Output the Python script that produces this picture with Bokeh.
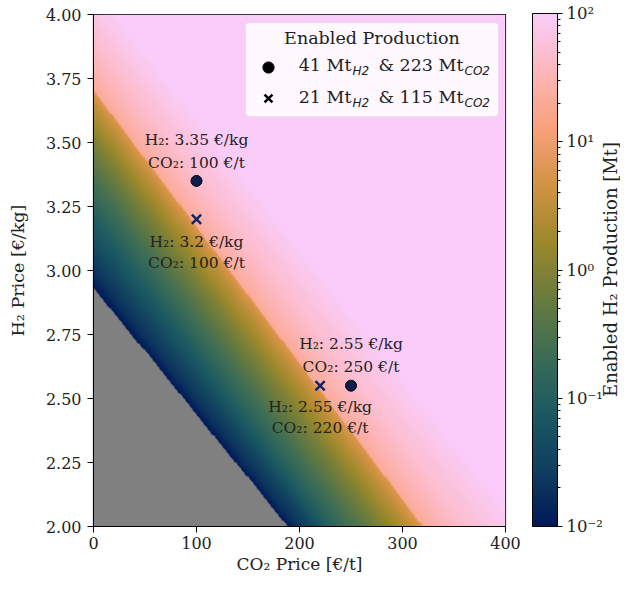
import numpy as np
from bokeh.plotting import figure
from bokeh.models import (Range1d, LogColorMapper, ColorBar, FixedTicker, Label,
                          BoxAnnotation, Legend, LegendItem, ColumnDataSource)
from bokeh.core.properties import value
from bokeh.embed import file_html
from bokeh.resources import INLINE

# ---------------- data ----------------
# Iso-production lines of the map (value in Mt) given by where they cross
# the left edge (CO2 price 0) and the bottom edge (H2 price 2.00).
level_mt = [0.01, 0.02, 0.03, 0.1, 0.3, 1.0, 3.0, 6.0, 20.0, 45.0, 100.0]
level_h2_at_co2_0 = [2.93, 2.99, 3.05, 3.22, 3.37, 3.52, 3.64, 3.70, 3.705, 3.88, 4.12]
level_co2_at_h2_2 = [188, 197, 208, 228, 253, 282, 306, 319, 320, 355, 420]

# marked scenarios
circle_co2 = [100, 250]
circle_h2 = [3.35, 2.55]
cross_co2 = [100, 220]
cross_h2 = [3.2, 2.55]

ann_co2 = [100, 100, 100, 100, 250, 250, 220, 220]
ann_h2 = [3.35, 3.35, 3.2, 3.2, 2.55, 2.55, 2.55, 2.55]
ann_text = ["H₂: 3.35 €/kg", "CO₂: 100 €/t", "H₂: 3.2 €/kg", "CO₂: 100 €/t",
            "H₂: 2.55 €/kg", "CO₂: 250 €/t", "H₂: 2.55 €/kg", "CO₂: 220 €/t"]

legend_title = "Enabled Production"
legend_rows = [("41 Mt", "H2", "& 223 Mt", "CO2"),
               ("21 Mt", "H2", "& 115 Mt", "CO2")]

x_ticks = [0, 100, 200, 300, 400]
y_ticks = [2.0, 2.25, 2.5, 2.75, 3.0, 3.25, 3.5, 3.75, 4.0]
cb_ticks = [0.01, 0.1, 1, 10, 100]
cb_tick_labels = {0.01: "10⁻²", 0.1: "10⁻¹", 1: "10⁰", 10: "10¹", 100: "10²"}
cb_title = "Enabled H₂ Production [Mt]"

# ---------------- styling ----------------
FONT = "DejaVu Serif"
TXT = "#222222"
ann_dy = [-41, -18, 23, 44, -42, -19, 21, 42]   # pixel offsets of annotation lines

batlow_keys = ["#011959", "#103F60", "#1C5A62", "#3C6D56", "#687B3E",
               "#9D892B", "#D29343", "#F8A17B", "#FDB7BC", "#FACCFA"]


def make_palette(keys, n=256):
    rgb = np.array([[int(k[i:i + 2], 16) for i in (1, 3, 5)] for k in keys], float)
    pos = np.linspace(0, 1, len(keys))
    t = np.linspace(0, 1, n)
    cols = np.stack([np.interp(t, pos, rgb[:, j]) for j in range(3)], axis=1)
    return ["#%02x%02x%02x" % tuple(int(round(v)) for v in c) for c in cols]


palette = make_palette(batlow_keys)

# ---------------- build the map from the read iso-lines ----------------
nx, ny = 400, 400
co2 = np.linspace(0, 400, nx)
h2 = np.linspace(2, 4, ny)
C, H = np.meshgrid(co2, h2)
g = np.array([(H - 2) / (hi - 2) + C / ci
              for hi, ci in zip(level_h2_at_co2_0, level_co2_at_h2_2)])
loglv = np.log10(level_mt)
field = np.full(C.shape, np.nan)
field[g[-1] >= 1] = level_mt[-1]
for i in range(len(level_mt) - 1):
    m = (g[i] >= 1) & (g[i + 1] < 1)
    t = (g[i][m] - 1) / (g[i][m] - g[i + 1][m])
    field[m] = 10 ** (loglv[i] + t * (loglv[i + 1] - loglv[i]))

mapper = LogColorMapper(palette=palette, low=0.01, high=100,
                        nan_color="#808080", high_color=palette[-1])

p = figure(width=620, height=576, output_backend="svg", toolbar_location=None,
           x_range=Range1d(0, 400), y_range=Range1d(2, 4),
           min_border_left=93, min_border_right=115, min_border_top=14,
           min_border_bottom=49)
p.background_fill_color = "white"
p.border_fill_color = "white"
p.grid.visible = False
p.outline_line_color = "black"
p.outline_line_width = 1.2
p.outline_line_alpha = 1

p.image(image=[field], x=0, y=2, dw=400, dh=2, color_mapper=mapper)

# axes
for ax in (p.xaxis[0], p.yaxis[0]):
    ax.axis_line_color = "black"
    ax.major_tick_line_color = "black"
    ax.major_tick_in = 0
    ax.major_tick_out = 6
    ax.minor_tick_line_color = None
    ax.major_label_text_font = FONT
    ax.major_label_text_font_size = "16px"
    ax.major_label_text_color = TXT
    ax.axis_label_text_font = FONT
    ax.axis_label_text_font_style = "normal"
    ax.axis_label_text_color = TXT
p.xaxis.major_label_standoff = 4
p.yaxis.major_label_standoff = 6
p.xaxis.axis_label_text_font_size = "17px"
p.yaxis.axis_label_text_font_size = "17.5px"
p.xaxis.ticker = FixedTicker(ticks=x_ticks)
p.yaxis.ticker = FixedTicker(ticks=y_ticks)
p.yaxis.major_label_overrides = {v: "%.2f" % v for v in y_ticks}
p.xaxis.axis_label = "CO₂ Price [€/t]"
p.yaxis.axis_label = "H₂ Price [€/kg]"
p.xaxis.axis_label_standoff = 2
p.yaxis.axis_label_standoff = 15

# colour-bar title, in the right-hand side panel (position relative to it)
p.add_layout(Label(x=105, y=257, x_units="screen", y_units="screen",
                   text=cb_title, angle=np.pi / 2,
                   text_align="center", text_baseline="middle",
                   text_font=FONT, text_font_size="18px", text_color=TXT),
             "right")

# markers
p.scatter(circle_co2, circle_h2, marker="circle", size=11,
          fill_color="#0b1d4d", line_color="#000000", line_width=1)
p.scatter(cross_co2, cross_h2, marker="x", size=13,
          line_color="#10266a", line_width=2.5)

# annotations
src = ColumnDataSource(dict(x=ann_co2, y=ann_h2, text=ann_text, dy=ann_dy))
p.text(x="x", y="y", text="text", y_offset="dy", source=src,
       text_align="center", text_baseline="middle",
       text_font=value(FONT), text_font_size="15.5px", text_color=TXT)

# colour bar
minor = [m * 10.0 ** e for e in range(-2, 2) for m in range(2, 10)]
cb = ColorBar(color_mapper=mapper, location=(439, 0), width=25, height=513,
              padding=0, margin=0,
              ticker=FixedTicker(ticks=cb_ticks, minor_ticks=minor),
              major_label_overrides=cb_tick_labels,
              major_label_text_font=FONT, major_label_text_font_size="16.5px",
              major_label_text_color=TXT,
              major_tick_in=0, major_tick_out=5, major_tick_line_color="black",
              minor_tick_in=0, minor_tick_out=3, minor_tick_line_color="black",
              bar_line_color="black", label_standoff=4,
              background_fill_alpha=0, border_line_alpha=0)
p.add_layout(cb, "center")

# legend box (frame coordinates, px from frame bottom-left)
p.add_layout(BoxAnnotation(left=152, right=405, bottom=410, top=504,
                           left_units="screen", right_units="screen",
                           bottom_units="screen", top_units="screen",
                           fill_color="white", fill_alpha=0.85,
                           line_color="#cccccc", line_width=1,
                           border_radius=4, level="annotation"))
p.add_layout(Label(x=278.5, y=489, x_units="screen", y_units="screen",
                   text=legend_title, text_align="center", text_baseline="middle",
                   text_font=FONT, text_font_size="17.5px", text_color=TXT))
row_y = [462, 430]
sub_end = [258, 370]       # frame-x where each main text piece ends
for (a, sa, b, sb), yy in zip(legend_rows, row_y):
    for txt, sx in ((a, sub_end[0]), (b, sub_end[1])):
        p.add_layout(Label(x=sx, y=yy, x_units="screen", y_units="screen",
                           text=txt, text_align="right", text_baseline="middle",
                           text_font=FONT, text_font_size="17.5px", text_color=TXT))
    for txt, sx in ((sa, sub_end[0] + 1), (sb, sub_end[1] + 1)):
        p.add_layout(Label(x=sx, y=yy - 6, x_units="screen", y_units="screen",
                           text=txt, text_align="left", text_baseline="middle",
                           text_font="DejaVu Sans", text_font_style="italic",
                           text_font_size="12px", text_color=TXT))

r_c = p.scatter([np.nan], [np.nan], marker="circle", fill_color="black",
                line_color="black")
r_x = p.scatter([np.nan], [np.nan], marker="x", line_color="black", line_width=2.5)
leg = Legend(items=[LegendItem(label=" ", renderers=[r_c]),
                    LegendItem(label=" ", renderers=[r_x])],
             location=(161, 414), glyph_width=28, glyph_height=28, spacing=3,
             padding=0, margin=0, label_standoff=0, label_width=0,
             background_fill_alpha=0, border_line_alpha=0)
p.add_layout(leg, "center")

open("out.html", "w").write(file_html(p, INLINE))
